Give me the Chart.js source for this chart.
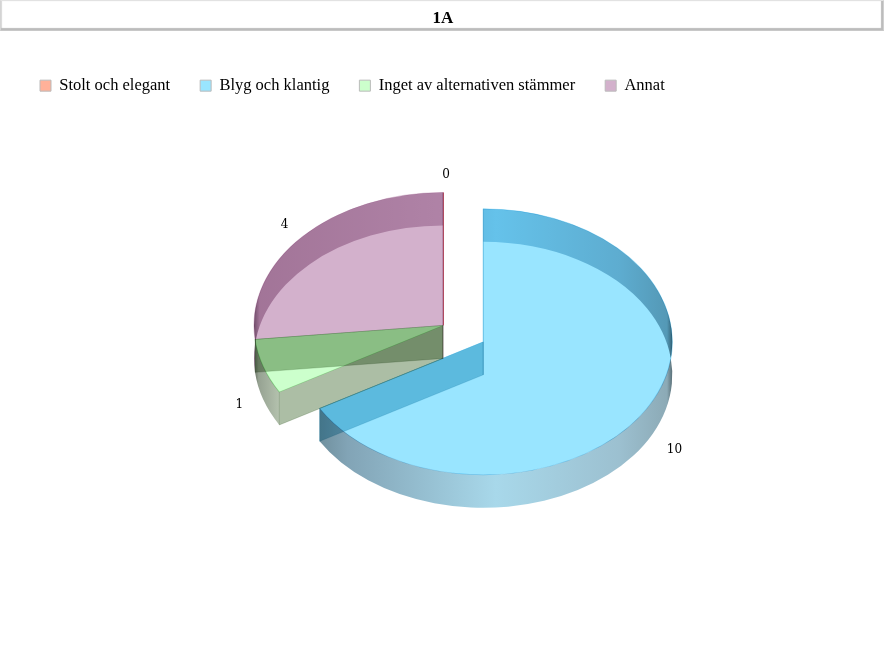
<!DOCTYPE html>
<html>
<head>
<meta charset="utf-8">
<title>1A</title>
<script src="https://cdn.jsdelivr.net/npm/chart.js@4"></script>
<style>
  html, body { margin: 0; padding: 0; background: #fff; }
  #wrap { position: relative; width: 884px; height: 650px; overflow: hidden; }
  #bar {
    position: absolute; left: 0; top: 0; width: 884px; height: 31px; box-sizing: border-box;
    border-top: 1px solid #e2e2e2; border-left: 1px solid #d4d4d4; border-right: 1px solid #d0d0d0; border-bottom: 1px solid #c8c8c8;
    box-shadow: inset -2px -2px 1px #bcbcbc, inset 1px 0 1px #d8d8d8;
    background: #fff;
  }
  canvas { position: absolute; left: 0; top: 0; }
</style>
</head>
<body>
<div id="wrap">
  <div id="bar"></div>
  <canvas id="chart" width="884" height="650"></canvas>
</div>
<script>
// chart data
const chartTitle = '1A';
const categories = ['Stolt och elegant', 'Blyg och klantig', 'Inget av alternativen stämmer', 'Annat'];
const values = [0, 10, 1, 4];
const sliceColors = ['#FFB199', '#99E5FF', '#CCFFCC', '#D3B1CC'];
const edgeColors = ['#C85A6E', '#A8E0F5', '#B4EEB4', '#E0C8DA'];
const planeColors = ['#D8A090', '#99CFDE', '#ACBEA5', '#C0A0B8'];

const TILT = 0.7037;   // ellipse height / width
const DEPTH = 33;      // pie thickness in px
const EXPLODE = 46.5;  // how far the pulled slice moves
const explodedIndex = 1;

// wall shading per slice, left to right over the slice's own width
const wallStops = {
  0: [[0, '#D8A090'], [1, '#D8A090']],
  1: [[0, '#70909E'], [0.08, '#82A4B6'], [0.5, '#A8D8EA'], [0.85, '#9CC0D0'], [0.985, '#8CAAB6'], [1, '#5A7078']],
  2: [[0, '#6E786A'], [0.15, '#96A292'], [1, '#B4C2AE']],
  3: [[0, '#8A7086'], [0.03, '#C4A8BE'], [1, '#D4BCD0']]
};

function sliceCenter(arc, i) {
  const mid = (arc.startAngle + arc.endAngle) / 2;
  const off = i === explodedIndex ? EXPLODE : 0;
  return { x: arc.x + Math.cos(mid) * off, y: arc.y + Math.sin(mid) * off * TILT };
}

function drawPlane(ctx, c, r, a) {
  const px = c.x + Math.cos(a) * r, py = c.y + Math.sin(a) * r * TILT;
  ctx.beginPath();
  ctx.moveTo(c.x, c.y);
  ctx.lineTo(px, py);
  ctx.lineTo(px, py + DEPTH);
  ctx.lineTo(c.x, c.y + DEPTH);
  ctx.closePath();
  ctx.fill();
  // no line along the top edge, the face border already has one
  ctx.save();
  ctx.globalAlpha = 0.5;
  ctx.beginPath();
  ctx.moveTo(px, py);
  ctx.lineTo(px, py + DEPTH);
  ctx.lineTo(c.x, c.y + DEPTH);
  ctx.lineTo(c.x, c.y);
  ctx.stroke();
  ctx.restore();
}

const pie3d = {
  id: 'pie3d',
  beforeDatasetDraw(chart, args) {
    const ctx = chart.ctx;
    const arcs = args.meta.data;
    ctx.save();
    ctx.globalCompositeOperation = 'multiply';

    arcs.forEach((arc, i) => {
      const c = sliceCenter(arc, i);
      const r = arc.outerRadius;
      // zero slice only leaves a line on the top face
      if (arc.circumference === 0) {
        ctx.strokeStyle = edgeColors[i];
        ctx.lineWidth = 1;
        ctx.beginPath();
        ctx.moveTo(c.x + 0.5, c.y);
        ctx.lineTo(c.x + 0.5 + Math.cos(arc.startAngle) * r, c.y + Math.sin(arc.startAngle) * r * TILT);
        ctx.stroke();
        return;
      }
      // top face, drawn by the arc element itself
      ctx.save();
      ctx.translate(c.x - arc.x, c.y);
      ctx.scale(1, TILT);
      ctx.translate(0, -arc.y);
      arc.draw(ctx);
      ctx.restore();

      // outer wall
      let minX = c.x + r, maxX = c.x - r;
      for (let k = 0; k <= 64; k++) {
        const px = c.x + Math.cos(arc.startAngle + (arc.endAngle - arc.startAngle) * k / 64) * r;
        minX = Math.min(minX, px);
        maxX = Math.max(maxX, px);
      }
      const grad = ctx.createLinearGradient(minX, 0, maxX, 0);
      wallStops[i].forEach(s => grad.addColorStop(s[0], s[1]));
      ctx.fillStyle = grad;
      ctx.beginPath();
      ctx.ellipse(c.x, c.y, r, r * TILT, 0, arc.startAngle, arc.endAngle);
      ctx.ellipse(c.x, c.y + DEPTH, r, r * TILT, 0, arc.endAngle, arc.startAngle, true);
      ctx.closePath();
      ctx.fill();

      // cut faces; neighbours that stay together share one
      const prev = i - 1;
      const shared = prev >= 0 && prev !== explodedIndex && i !== explodedIndex && arcs[prev].circumference > 0;
      ctx.fillStyle = planeColors[i];
      ctx.strokeStyle = planeColors[i];
      ctx.lineWidth = 1;
      if (!shared) drawPlane(ctx, c, r, arc.startAngle);
      drawPlane(ctx, c, r, arc.endAngle);
    });

    ctx.restore();
    return false;
  },
  afterDatasetsDraw(chart) {
    const ctx = chart.ctx;
    const arcs = chart.getDatasetMeta(0).data;
    ctx.save();
    ctx.fillStyle = '#000';
    ctx.font = '12px "DejaVu Serif"';
    ctx.textAlign = 'center';
    ctx.textBaseline = 'middle';
    arcs.forEach((arc, i) => {
      const c = sliceCenter(arc, i);
      const mid = (arc.startAngle + arc.endAngle) / 2;
      const r = arc.outerRadius * 1.15;
      const front = Math.sin(mid) > 0 ? DEPTH - 3 : 0;
      ctx.fillText(String(values[i]), c.x + Math.cos(mid) * r + 3, c.y + Math.sin(mid) * r * TILT + front + 2);
    });
    ctx.restore();
  }
};

new Chart(document.getElementById('chart'), {
  type: 'pie',
  data: {
    labels: categories,
    datasets: [{
      data: values,
      backgroundColor: sliceColors,
      borderColor: edgeColors,
      borderWidth: 1,
      radius: 189
    }]
  },
  options: {
    responsive: false,
    animation: false,
    layout: { padding: { left: 10, right: 8, top: 0, bottom: 103 } },
    plugins: {
      tooltip: { enabled: false },
      title: {
        display: true,
        text: chartTitle,
        color: '#000',
        font: { family: '"Liberation Serif"', size: 17, weight: 'bold' },
        padding: { top: 8, bottom: 19 }
      },
      legend: {
        position: 'top',
        align: 'start',
        labels: {
          boxWidth: 11,
          boxHeight: 11,
          padding: 30,
          color: '#000',
          font: { family: '"Liberation Serif"', size: 16.5 },
          generateLabels(chart) {
            return categories.map((name, i) => ({
              text: name,
              fillStyle: sliceColors[i],
              strokeStyle: '#BBBBBB',
              lineWidth: 1,
              index: i
            }));
          }
        }
      }
    }
  },
  plugins: [pie3d]
});
</script>
</body>
</html>
